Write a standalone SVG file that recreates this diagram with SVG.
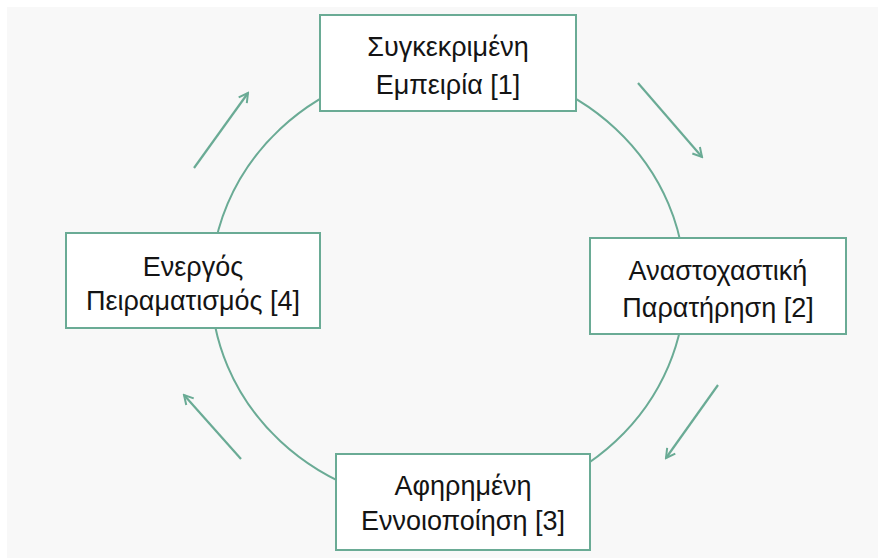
<svg xmlns="http://www.w3.org/2000/svg" width="878" height="558" viewBox="0 0 878 558">
  <defs>
    <style>
      .node rect { fill: #ffffff; stroke: #6aab95; stroke-width: 2; }
      .node text { font-family: "Liberation Sans", "DejaVu Sans", sans-serif; font-size: 27px; fill: #141414; text-anchor: middle; }
      .ring { fill: none; stroke: #6aab95; stroke-width: 2; }
      .arrow { fill: none; stroke: #6aab95; stroke-width: 2.2; marker-end: url(#head); }
    </style>
    <marker id="head" viewBox="0 0 12 12" refX="10" refY="6" markerWidth="12" markerHeight="12" markerUnits="userSpaceOnUse" orient="auto">
      <path d="M1,1 L10,6 L1,11" fill="none" stroke="#6aab95" stroke-width="2"/>
    </marker>
  </defs>
  <rect x="0" y="0" width="878" height="558" fill="#ffffff"/>
  <rect x="7" y="7" width="871" height="551" fill="#f8f8f8"/>
  <g id="connectors">
    <ellipse class="ring" cx="448" cy="285" rx="237" ry="221"/>
    <line class="arrow" x1="638" y1="83" x2="702" y2="157"/>
    <line class="arrow" x1="718" y1="385" x2="666" y2="458"/>
    <line class="arrow" x1="241" y1="459" x2="184" y2="395"/>
    <line class="arrow" x1="194" y1="168" x2="248" y2="93"/>
  </g>
  <g id="node1" class="node">
    <rect x="320" y="15" width="256" height="96"/>
    <text x="448" y="56">Συγκεκριμένη</text>
    <text x="448" y="94">Εμπειρία [1]</text>
  </g>
  <g id="node2" class="node">
    <rect x="590" y="238" width="256" height="96"/>
    <text x="718" y="280">Αναστοχαστική</text>
    <text x="718" y="317">Παρατήρηση [2]</text>
  </g>
  <g id="node3" class="node">
    <rect x="336" y="454" width="254" height="96"/>
    <text x="463" y="495">Αφηρημένη</text>
    <text x="463" y="530">Εννοιοποίηση [3]</text>
  </g>
  <g id="node4" class="node">
    <rect x="66" y="233" width="254" height="95"/>
    <text x="193" y="276">Ενεργός</text>
    <text x="193" y="310">Πειραματισμός [4]</text>
  </g>
</svg>
